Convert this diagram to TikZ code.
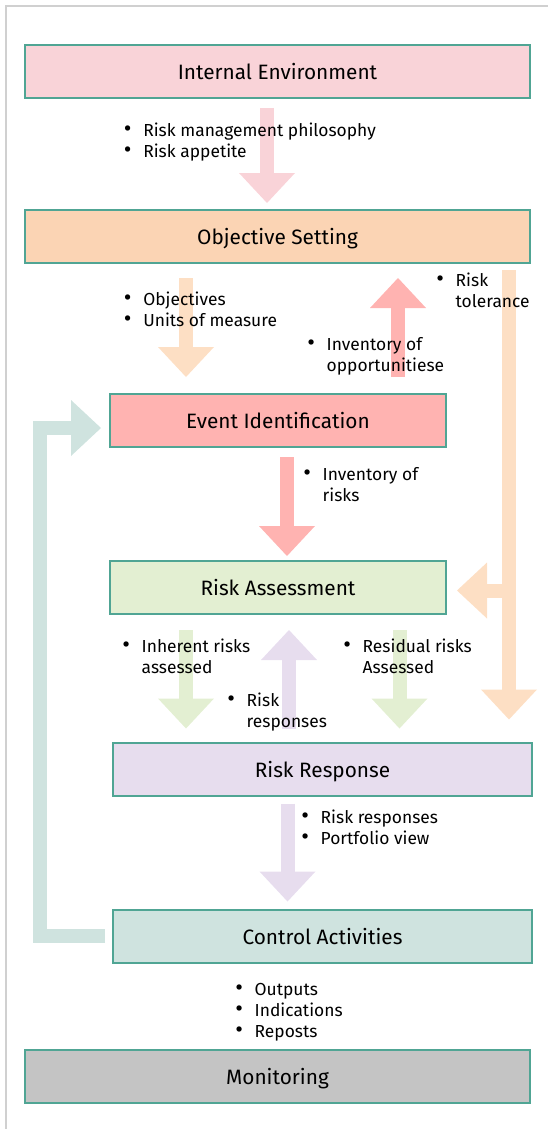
\documentclass[tikz,border=0pt]{standalone}
\usepackage{fontspec}
\setmainfont{Fira Sans}
\usetikzlibrary{calc,
	positioning,
	arrows.meta}

\definecolor{iefill}{HTML}{F9D3D8}
\definecolor{osfill}{HTML}{FBD4B4}
\definecolor{osarrow}{HTML}{FDDFC4}
\definecolor{eifill}{HTML}{FFB3B1}
\definecolor{rafill}{HTML}{E3EFD2}
\definecolor{rrfill}{HTML}{E7DDEE}
\definecolor{cafill}{HTML}{CFE3DF}
\definecolor{mofill}{HTML}{C4C4C4}
\definecolor{edgeteal}{HTML}{50A594}
\definecolor{framegray}{HTML}{D0D0D0}

\tikzset{
	stage/.style={draw=edgeteal, line width=2pt, minimum height=53pt, inner sep=0pt,
		font=\fontsize{20.8}{24}\selectfont, text height=16pt, text depth=0pt},
	blockarrow/.style={line width=14pt, -{Triangle[width=56pt, length=30pt, line width=0pt]}},
	note/.style={anchor=base west, inner sep=0pt, font=\fontsize{17.4}{21.3}\selectfont}
}
\newcommand{\notelines}[1]{\begin{tabular}[t]{@{}l@{}l@{}}#1\end{tabular}}
\newcommand{\bulletmark}{\makebox[31pt]{\scalebox{1.35}{\textbullet}}}

\begin{document}
\begin{tikzpicture}[x=1pt, y=-1pt]
	\useasboundingbox (0,0) rectangle (548,1129);
	\draw[framegray, line width=2pt] (6,1129) -- (6,6) -- (548,6);
	% Stages
	\node[stage, fill=iefill, minimum width=505pt] (ie) at (277.5,71.5) {Internal Environment};
	\node[stage, fill=osfill, minimum width=505pt] (os) at (277.5,236.5) {Objective Setting};
	\node[stage, fill=eifill, minimum width=336pt] (ei) at (278,420.5) {Event Identification};
	\node[stage, fill=rafill, minimum width=336pt] (ra) at (278,587.5) {Risk Assessment};
	\node[stage, fill=rrfill, minimum width=419pt] (rr) at (322.5,769) {Risk Response};
	\node[stage, fill=cafill, minimum width=419pt] (ca) at (322.5,936) {Control Activities};
	\node[stage, fill=mofill, minimum width=505pt] (mo) at (277.5,1076.5) {Monitoring};
	% Arrows
	\draw[blockarrow, iefill] ($(ie.south)+(-10.5,9)$) -- ($(os.north)+(-10.5,-6)$);
	\draw[blockarrow, osarrow] ($(os.south)+(-91.5,14)$) -- ($(ei.north)+(-92,-16)$);
	\draw[blockarrow, eifill] ($(ei.north)+(120,-16)$) -- ($(os.south)+(120.5,14)$);
	\draw[blockarrow, osarrow] ($(os.south)+(231.5,6)$) -- ($(rr.north)+(186.5,-22)$);
	\draw[blockarrow, osarrow] ($(ra.east)+(62,3)$) -- ($(ra.east)+(10,3)$);
	\draw[blockarrow, cafill] ($(ca.west)+(-7,0)$) -| ($(ei.west)+(-69.5,7.5)$) -- ($(ei.west)+(-8,7.5)$);
	\draw[blockarrow, eifill] ($(ei.south)+(9,9)$) -- ($(ra.north)+(9,-4)$);
	\draw[blockarrow, rafill] ($(ra.south)+(-92,15)$) -- ($(rr.north)+(-136.5,-13)$);
	\draw[blockarrow, rrfill] ($(rr.north)+(-33.5,-13)$) -- ($(ra.south)+(11,15)$);
	\draw[blockarrow, rafill] ($(ra.south)+(121.5,15)$) -- ($(rr.north)+(77,-13)$);
	\draw[blockarrow, rrfill] ($(rr.south)+(-35,7)$) -- ($(ca.north)+(-35,-7)$);
	% Notes
	\node[note] (philo) at (112.1,136) {\notelines{\bulletmark & Risk management philosophy\\ \bulletmark & Risk appetite}};
	\node[note] (objs) at (112.1,305) {\notelines{\bulletmark & Objectives\\ \bulletmark & Units of measure}};
	\node[note] (opps) at (295.5,350) {\notelines{\bulletmark & Inventory of\\ & opportunitiese}};
	\node[note] (tol) at (424.5,286) {\notelines{\bulletmark & Risk\\ & tolerance}};
	\node[note] (invrisk) at (291.5,480) {\notelines{\bulletmark & Inventory of\\ & risks}};
	\node[note] (inh) at (110.5,652) {\notelines{\bulletmark & Inherent risks\\ & assessed}};
	\node[note] (resp) at (215.5,706) {\notelines{\bulletmark & Risk\\ & responses}};
	\node[note] (resid) at (331.5,652) {\notelines{\bulletmark & Residual risks\\ & Assessed}};
	\node[note] (portf) at (289.5,823) {\notelines{\bulletmark & Risk responses\\ \bulletmark & Portfolio view}};
	\node[note] (outs) at (223.5,995) {\notelines{\bulletmark & Outputs\\ \bulletmark & Indications\\ \bulletmark & Reposts}};
\end{tikzpicture}
\end{document}
